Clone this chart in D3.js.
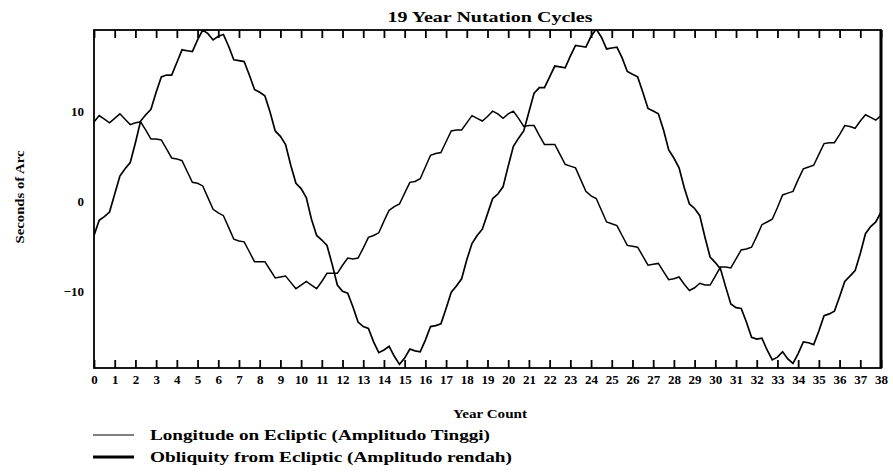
<!DOCTYPE html>
<html>
<head>
<meta charset="utf-8">
<script src="https://cdn.jsdelivr.net/npm/d3@7"></script>
<style>
  html, body { margin: 0; padding: 0; background: #fff; }
  svg { display: block; }
  text { font-family: "Liberation Serif", "DejaVu Serif", serif; font-weight: bold; fill: #000; }
</style>
</head>
<body>
<svg id="chart" width="893" height="475"></svg>
<script>
// ---- data ----
const chartTitle = "19 Year Nutation Cycles";
const xTitle = "Year Count";
const yTitle = "Seconds of Arc";
const xTickLabels = [0,1,2,3,4,5,6,7,8,9,10,11,12,13,14,15,16,17,18,19,20,21,22,23,24,25,26,27,28,29,30,31,32,33,34,35,36,37,38];
const yTickLabels = [-10, 0, 10];
const seriesNames = ["Longitude on Ecliptic (Amplitudo Tinggi)", "Obliquity from Ecliptic (Amplitudo rendah)"];

const sampleYears = [0,0.25,0.5,0.75,1,1.25,1.5,1.75,2,2.25,2.5,2.75,3,3.25,3.5,3.75,4,4.25,4.5,4.75,5,5.25,5.5,5.75,6,6.25,6.5,6.75,7,7.25,7.5,7.75,8,8.25,8.5,8.75,9,9.25,9.5,9.75,10,10.25,10.5,10.75,11,11.25,11.5,11.75,12,12.25,12.5,12.75,13,13.25,13.5,13.75,14,14.25,14.5,14.75,15,15.25,15.5,15.75,16,16.25,16.5,16.75,17,17.25,17.5,17.75,18,18.25,18.5,18.75,19,19.25,19.5,19.75,20,20.25,20.5,20.75,21,21.25,21.5,21.75,22,22.25,22.5,22.75,23,23.25,23.5,23.75,24,24.25,24.5,24.75,25,25.25,25.5,25.75,26,26.25,26.5,26.75,27,27.25,27.5,27.75,28,28.25,28.5,28.75,29,29.25,29.5,29.75,30,30.25,30.5,30.75,31,31.25,31.5,31.75,32,32.25,32.5,32.75,33,33.25,33.5,33.75,34,34.25,34.5,34.75,35,35.25,35.5,35.75,36,36.25,36.5,36.75,37,37.25,37.5,37.75,38];

const longitudeValues = [-3.8,-2.1,-1.7,-1.2,0.8,2.8,3.6,4.3,6.5,8.9,9.6,10.2,12.1,13.8,14.0,14.0,15.4,16.8,16.7,16.6,17.9,19.0,18.6,17.9,18.3,18.5,17.2,15.7,15.6,15.5,14.0,12.4,12.1,11.7,9.9,7.8,7.2,6.3,4.0,2.0,1.4,0.4,-2.0,-3.8,-4.3,-4.9,-7.0,-9.3,-10.0,-10.2,-11.7,-13.4,-13.9,-14.1,-15.6,-16.8,-16.5,-16.1,-17.2,-18.1,-17.4,-16.4,-16.6,-16.7,-15.4,-13.9,-13.8,-13.6,-11.9,-10.1,-9.4,-8.6,-6.5,-4.7,-3.8,-3.1,-1.4,0.3,0.8,1.6,3.9,6.1,7.0,7.8,9.9,12.0,12.6,12.6,13.8,15.0,14.9,14.8,16.1,17.3,17.2,17.1,18.3,19.1,18.2,16.9,17.0,17.1,15.9,14.4,14.1,13.8,12.1,10.3,10.0,9.7,7.9,5.7,4.8,3.7,1.5,-0.3,-0.8,-1.6,-4.0,-6.2,-6.8,-7.5,-9.5,-11.4,-11.8,-11.9,-13.4,-15.1,-15.3,-15.2,-16.5,-17.6,-17.3,-16.7,-17.5,-18.0,-16.9,-15.6,-15.7,-15.9,-14.4,-12.7,-12.5,-12.2,-10.6,-8.9,-8.3,-7.7,-5.8,-3.6,-2.8,-2.3,-1.2];

const obliquityValues = [8.8,9.5,9.1,8.7,9.2,9.7,9.1,8.5,8.7,8.8,7.9,6.9,6.9,6.8,5.8,4.8,4.7,4.5,3.3,2.1,2.0,1.7,0.4,-0.9,-1.3,-1.6,-2.9,-4.2,-4.4,-4.5,-5.6,-6.7,-6.7,-6.7,-7.6,-8.5,-8.4,-8.3,-9.0,-9.7,-9.3,-8.9,-9.3,-9.7,-8.9,-8.0,-8.0,-8.0,-7.1,-6.3,-6.4,-6.3,-5.2,-4.0,-3.8,-3.5,-2.2,-1.0,-0.6,-0.3,0.9,2.1,2.2,2.5,3.8,5.1,5.3,5.4,6.6,7.8,7.9,7.9,8.7,9.5,9.2,8.9,9.4,10.0,9.7,9.2,9.7,10.0,9.2,8.3,8.4,8.4,7.3,6.3,6.3,6.3,5.2,4.1,3.9,3.7,2.4,1.1,0.6,0.3,-1.0,-2.3,-2.5,-2.7,-3.8,-4.9,-5.0,-5.1,-6.1,-7.1,-7.0,-6.9,-7.8,-8.7,-8.6,-8.4,-9.2,-9.9,-9.6,-9.1,-9.3,-9.3,-8.3,-7.3,-7.3,-7.4,-6.4,-5.4,-5.3,-5.1,-3.9,-2.6,-2.3,-2.0,-0.7,0.7,0.9,1.1,2.4,3.6,3.8,4.0,5.2,6.4,6.5,6.5,7.4,8.4,8.3,8.1,8.9,9.6,9.3,9.0,9.5];

// ---- layout ----
const svg = d3.select("#chart");
const plot = { left: 94, right: 881, top: 30, bottom: 368 };

const x = d3.scaleLinear().domain([0, 38]).range([plot.left, plot.right]);
const y = d3.scaleLinear().domain([-18.5, 19]).range([plot.bottom, plot.top]);

svg.append("defs").append("clipPath").attr("id", "plotClip")
  .append("rect")
  .attr("x", plot.left).attr("y", plot.top)
  .attr("width", plot.right - plot.left).attr("height", plot.bottom - plot.top);

// title
svg.append("text")
  .attr("x", 490).attr("y", 22)
  .attr("text-anchor", "middle")
  .attr("font-size", 15)
  .attr("textLength", 205)
  .attr("lengthAdjust", "spacingAndGlyphs")
  .text(chartTitle);

// lines
const lineGen = d3.line()
  .x((d, i) => x(sampleYears[i]))
  .y(d => y(d))
  .curve(d3.curveLinear);

const lines = svg.append("g").attr("clip-path", "url(#plotClip)");
lines.append("path")
  .datum(obliquityValues)
  .attr("fill", "none").attr("stroke", "#000").attr("stroke-width", 1.5)
  .attr("d", lineGen);
lines.append("path")
  .datum(longitudeValues)
  .attr("fill", "none").attr("stroke", "#000").attr("stroke-width", 1.7)
  .attr("d", lineGen);

// bottom axis (ticks inward + labels)
const xAxisBottom = d3.axisBottom(x)
  .tickValues(xTickLabels)
  .tickSize(-8)
  .tickPadding(7)
  .tickFormat(d => String(d));
const gxb = svg.append("g")
  .attr("transform", `translate(0,${plot.bottom})`)
  .call(xAxisBottom);
gxb.select(".domain").remove();
gxb.selectAll(".tick line").attr("stroke", "#000").attr("stroke-width", 1.8);
gxb.selectAll(".tick text")
  .attr("font-family", "Liberation Serif, serif")
  .attr("font-weight", "bold")
  .attr("font-size", 13)
  .attr("fill", "#000");

// top axis (ticks inward only)
const xAxisTop = d3.axisTop(x)
  .tickValues(xTickLabels)
  .tickSize(-8)
  .tickFormat("");
const gxt = svg.append("g")
  .attr("transform", `translate(0,${plot.top})`)
  .call(xAxisTop);
gxt.select(".domain").remove();
gxt.selectAll(".tick line").attr("stroke", "#000").attr("stroke-width", 1.8);

// left axis labels
const yAxis = d3.axisLeft(y)
  .tickValues(yTickLabels)
  .tickSize(0)
  .tickPadding(10)
  .tickFormat(d => d < 0 ? "\u2212" + Math.abs(d) : String(d));
const gy = svg.append("g")
  .attr("transform", `translate(${plot.left},0)`)
  .call(yAxis);
gy.select(".domain").remove();
gy.selectAll(".tick text")
  .attr("font-family", "Liberation Serif, serif")
  .attr("font-weight", "bold")
  .attr("font-size", 13)
  .attr("fill", "#000");

// frame
svg.append("rect")
  .attr("x", plot.left).attr("y", plot.top)
  .attr("width", plot.right - plot.left).attr("height", plot.bottom - plot.top)
  .attr("fill", "none").attr("stroke", "#000").attr("stroke-width", 1.8);
svg.append("line")
  .attr("x1", plot.right).attr("x2", plot.right)
  .attr("y1", plot.top).attr("y2", plot.bottom)
  .attr("stroke", "#000").attr("stroke-width", 3);

// axis titles
svg.append("text")
  .attr("x", 490).attr("y", 418)
  .attr("text-anchor", "middle")
  .attr("font-size", 13)
  .attr("textLength", 74)
  .attr("lengthAdjust", "spacingAndGlyphs")
  .text(xTitle);

svg.append("text")
  .attr("transform", "translate(24,197) rotate(-90)")
  .attr("text-anchor", "middle")
  .attr("font-size", 12)
  .attr("textLength", 93)
  .attr("lengthAdjust", "spacingAndGlyphs")
  .text(yTitle);

// legend
const legendY = [435, 457];
const legendW = [1, 3];
const legendTextLen = [340, 362];
const leg = svg.append("g");
seriesNames.forEach((name, i) => {
  leg.append("line")
    .attr("x1", 93).attr("x2", 134)
    .attr("y1", legendY[i]).attr("y2", legendY[i])
    .attr("stroke", "#000").attr("stroke-width", legendW[i]);
  leg.append("text")
    .attr("x", 150).attr("y", legendY[i] + 5)
    .attr("font-size", 15)
    .attr("textLength", legendTextLen[i])
    .attr("lengthAdjust", "spacingAndGlyphs")
    .text(name);
});
</script>
</body>
</html>
